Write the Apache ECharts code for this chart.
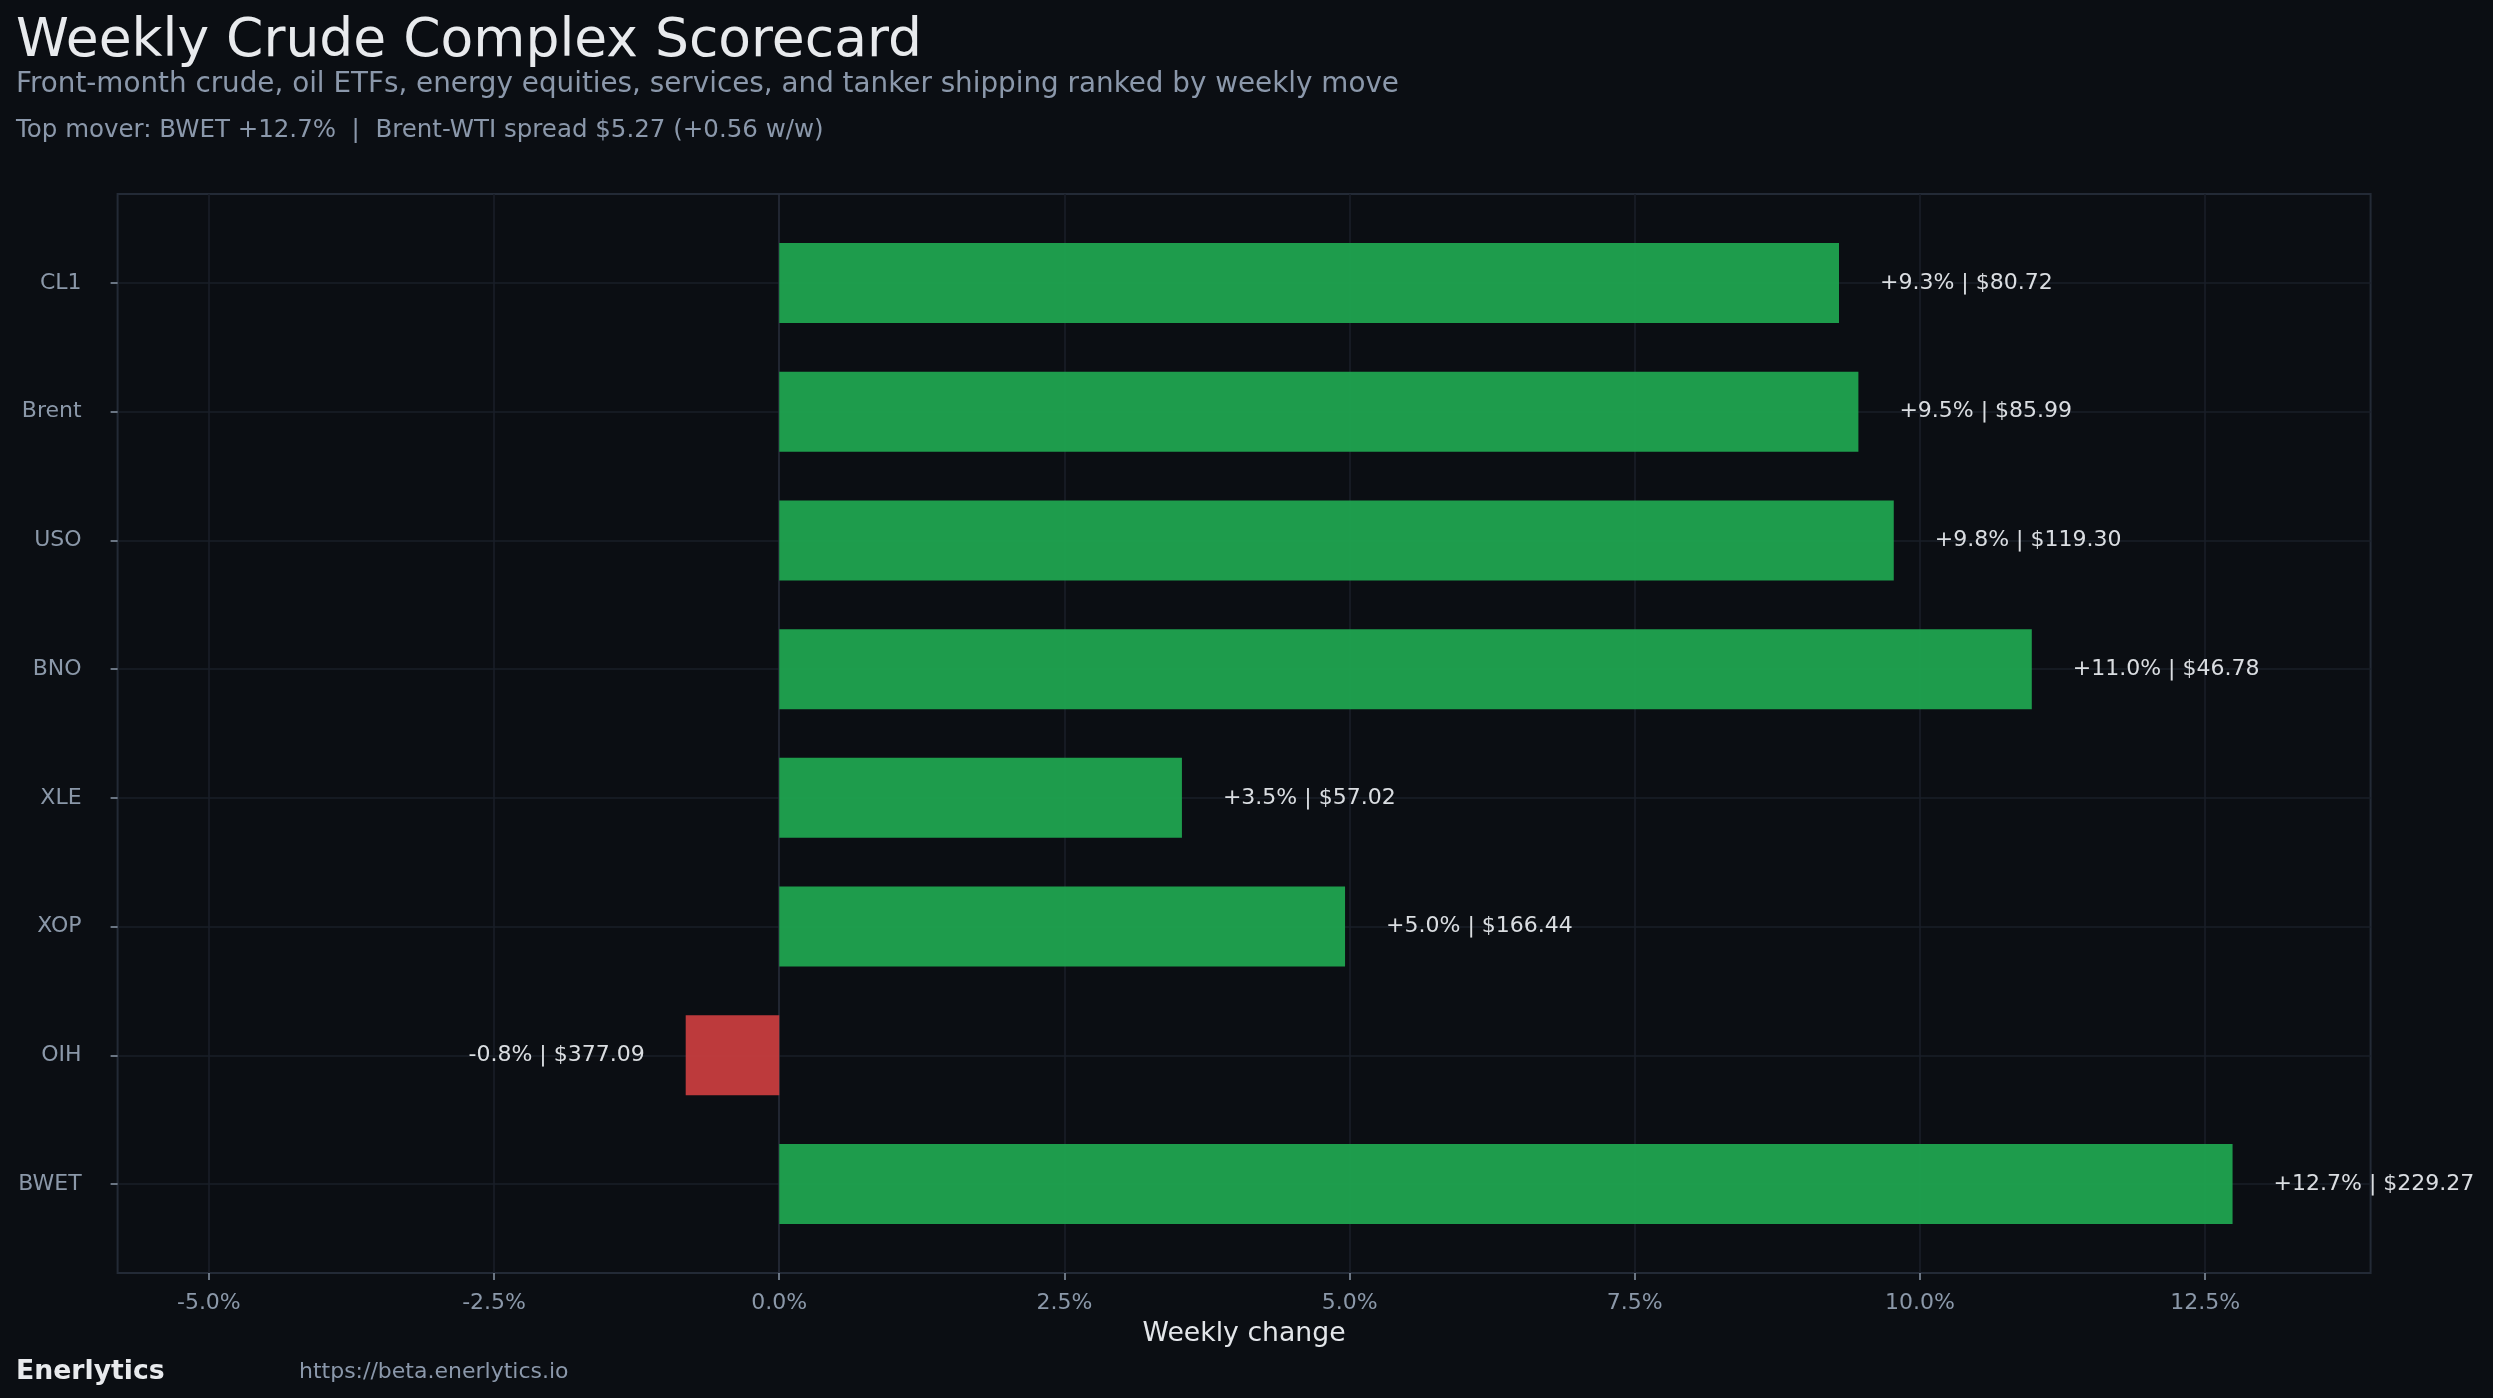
<!DOCTYPE html>
<html>
<head>
<meta charset="utf-8">
<script src="https://cdn.jsdelivr.net/npm/echarts@6/dist/echarts.min.js"></script>
<style>
html,body{margin:0;padding:0;background:#0b0e13;}
#chart{width:2493px;height:1398px;}
</style>
</head>
<body>
<div id="chart"></div>
<script>
// data, top row first
var tickers = ['CL1', 'Brent', 'USO', 'BNO', 'XLE', 'XOP', 'OIH', 'BWET'];
var weeklyChange = [9.29, 9.46, 9.77, 10.98, 3.53, 4.96, -0.82, 12.74];
var lastPrice = [80.72, 85.99, 119.30, 46.78, 57.02, 166.44, 377.09, 229.27];
var xTicks = [-5, -2.5, 0, 2.5, 5, 7.5, 10, 12.5];
var rowTicks = [0, 1, 2, 3, 4, 5, 6, 7];

var X_MIN = -5.8, X_MAX = 13.95;
var Y_MIN = -0.691, Y_MAX = 7.691;

var FONT = '"DejaVu Sans"';
var plot = {left: 117.6, top: 194, width: 2253, height: 1079};
var unit = plot.height / (Y_MAX - Y_MIN);
// bars live in their own grid, lined up with the rows of the frame grid
var barGrid = {
    left: plot.left, width: plot.width,
    top: plot.top + (-0.5 - Y_MIN) * unit,
    height: tickers.length * unit
};

function fmtPct(v) {
    return (v >= 0 ? '+' : '') + v.toFixed(1) + '%';
}

var barData = weeklyChange.map(function (v, i) {
    return {
        value: v,
        itemStyle: {color: v >= 0 ? '#1fa24f' : '#c53c3e'},
        label: {position: v >= 0 ? 'right' : 'left'}
    };
});

var gridColor = '#1a1f29';
var splitColors = xTicks.map(function (t) { return t === 0 ? '#272e3b' : gridColor; });

function txt(x, y, text, font, fill) {
    return {type: 'text', x: x, y: y, style: {text: text, font: font, fill: fill,
        align: 'left', verticalAlign: 'middle', textAlign: 'left', textVerticalAlign: 'middle'}};
}

var chart = echarts.init(document.getElementById('chart'));
chart.setOption({
    backgroundColor: '#0b0e13',
    animation: false,
    textStyle: {fontFamily: FONT},
    grid: [
        {left: plot.left, top: plot.top, width: plot.width, height: plot.height,
         show: true, borderColor: '#232a36', borderWidth: 2, backgroundColor: 'transparent'},
        {left: barGrid.left, top: barGrid.top, width: barGrid.width, height: barGrid.height}
    ],
    xAxis: [
        {
            type: 'value', gridIndex: 0, min: X_MIN, max: X_MAX, position: 'bottom',
            axisLine: {show: false, onZero: false},
            axisTick: {show: true, length: 7, customValues: xTicks,
                       lineStyle: {color: '#8b98a9', width: 1.5}},
            axisLabel: {customValues: xTicks, margin: 19, color: '#8b98a9', fontSize: 22,
                        fontFamily: FONT,
                        formatter: function (v) { return v.toFixed(1) + '%'; }},
            splitLine: {show: true, lineStyle: {color: splitColors, width: 1.6}},
            name: 'Weekly change', nameLocation: 'middle', nameGap: 48,
            nameTextStyle: {color: '#e3e6ea', fontSize: 26.7, fontFamily: FONT}
        },
        {
            type: 'value', gridIndex: 1, min: X_MIN, max: X_MAX,
            axisLine: {show: false}, axisTick: {show: false},
            axisLabel: {show: false}, splitLine: {show: false}
        }
    ],
    yAxis: [
        {
            type: 'value', gridIndex: 0, min: Y_MIN, max: Y_MAX, inverse: true, position: 'left',
            axisLine: {show: false, onZero: false},
            axisTick: {show: true, length: 7, customValues: rowTicks,
                       lineStyle: {color: '#8b98a9', width: 1.5}},
            axisLabel: {customValues: rowTicks, margin: 36, color: '#8b98a9', fontSize: 22,
                        fontFamily: FONT, padding: [6, 0, 0, 0],
                        formatter: function (v) { return tickers[Math.round(v)]; }},
            splitLine: {show: true, lineStyle: {color: gridColor, width: 1.6}}
        },
        {
            type: 'category', gridIndex: 1, data: tickers, inverse: true,
            axisLine: {show: false}, axisTick: {show: false},
            axisLabel: {show: false}, splitLine: {show: false}
        }
    ],
    series: [{
        type: 'bar',
        xAxisIndex: 1, yAxisIndex: 1,
        barWidth: 80,
        itemStyle: {opacity: 0.96},
        label: {
            show: true, distance: 41, color: '#e3e6ea', fontSize: 22, fontFamily: FONT,
            padding: [3, 0, 0, 0],
            formatter: function (p) {
                return fmtPct(weeklyChange[p.dataIndex]) + ' | $' + lastPrice[p.dataIndex].toFixed(2);
            }
        },
        data: barData
    }],
    graphic: [
        txt(16, 42, 'Weekly Crude Complex Scorecard', '53.5px ' + FONT, '#e8eaed'),
        txt(16, 85, 'Front-month crude, oil ETFs, energy equities, services, and tanker shipping ranked by weekly move',
            '27.8px ' + FONT, '#8b98ab'),
        txt(16, 131, 'Top mover: BWET +12.7%  |  Brent-WTI spread $5.27 (+0.56 w/w)', '24.5px ' + FONT, '#8b98ab'),
        txt(16, 1372, 'Enerlytics', 'bold 26.7px ' + FONT, '#e8eaed'),
        txt(299, 1372, 'https://beta.enerlytics.io', '22px ' + FONT, '#8b98ab')
    ]
});
</script>
</body>
</html>
